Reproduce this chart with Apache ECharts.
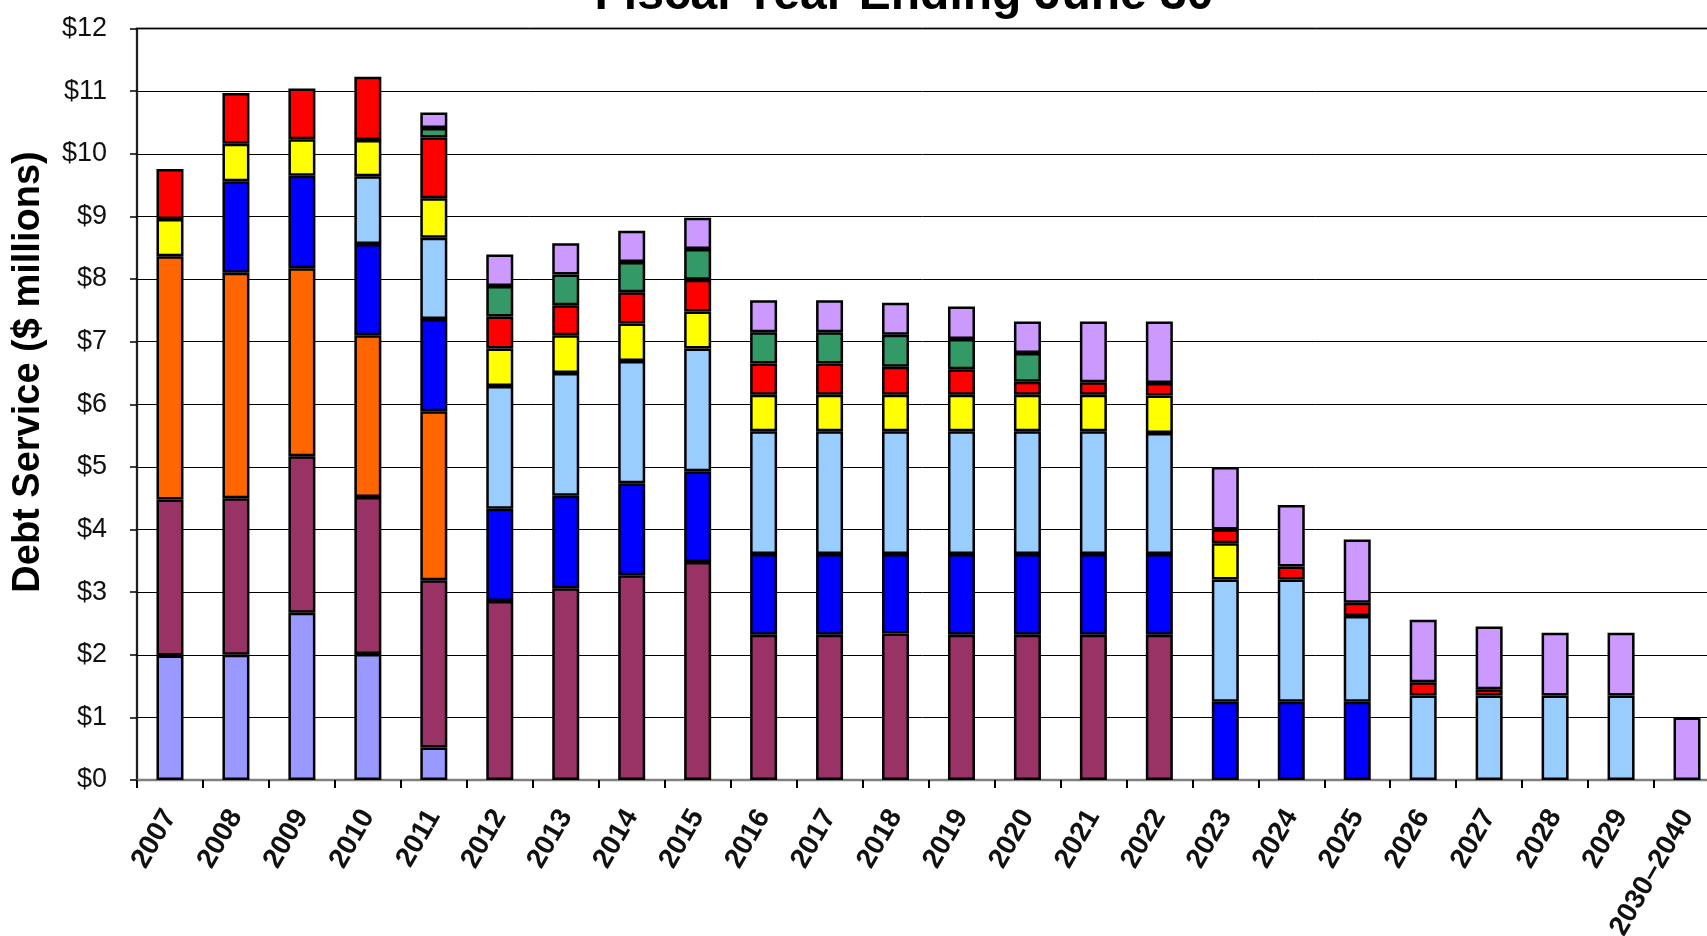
<!DOCTYPE html>
<html>
<head>
<meta charset="utf-8">
<style>
  html, body { margin: 0; padding: 0; background: #fff; }
  #chart { width: 1707px; height: 936px; }
</style>
<script src="https://cdn.jsdelivr.net/npm/echarts@6/dist/echarts.min.js"></script>
</head>
<body>
<div id="chart"></div>
<script>
const titleText = 'Fiscal Year Ending June 30';
const yAxisName = 'Debt Service ($ millions)';
const categories = ['2007','2008','2009','2010','2011','2012','2013','2014','2015','2016','2017','2018','2019','2020','2021','2022','2023','2024','2025','2026','2027','2028','2029','2030–2040'];
const yTickLabels = ['$0','$1','$2','$3','$4','$5','$6','$7','$8','$9','$10','$11','$12'];

const periwinkle = [1.99,2.00,2.67,2.01,0.52,0,0,0,0,0,0,0,0,0,0,0,0,0,0,0,0,0,0,0];
const maroon     = [2.49,2.50,2.50,2.51,2.67,2.86,3.06,3.27,3.48,2.32,2.32,2.34,2.32,2.32,2.32,2.32,0,0,0,0,0,0,0,0];
const orange     = [3.885,3.60,3.00,2.58,2.70,0,0,0,0,0,0,0,0,0,0,0,0,0,0,0,0,0,0,0];
const blue       = [0,1.46,1.48,1.46,1.47,1.47,1.48,1.47,1.45,1.29,1.29,1.27,1.29,1.29,1.29,1.29,1.25,1.25,1.25,0,0,0,0,0];
const lightBlue  = [0,0,0,1.08,1.30,1.96,1.96,1.95,1.96,1.96,1.96,1.96,1.96,1.96,1.96,1.93,1.95,1.95,1.37,1.35,1.35,1.35,1.35,0];
const yellow     = [0.595,0.60,0.58,0.58,0.63,0.60,0.60,0.60,0.59,0.58,0.58,0.58,0.58,0.58,0.58,0.60,0.58,0,0,0,0,0,0,0];
const red        = [0.795,0.81,0.81,1.01,0.97,0.51,0.48,0.50,0.51,0.50,0.50,0.45,0.41,0.21,0.20,0.20,0.22,0.21,0.21,0.21,0.10,0,0,0];
const green      = [0,0,0,0,0.15,0.49,0.49,0.48,0.49,0.50,0.50,0.51,0.48,0.46,0,0,0,0,0,0,0,0,0,0];
const lavender   = [0,0,0,0,0.25,0.50,0.50,0.50,0.50,0.51,0.51,0.51,0.52,0.50,0.97,0.98,1.00,0.98,1.01,1.00,1.00,1.00,1.00,1.00];

const seriesDefs = [
  { name: 'A', data: periwinkle, color: '#9999FF' },
  { name: 'B', data: maroon,     color: '#993366' },
  { name: 'C', data: orange,     color: '#FF6600' },
  { name: 'D', data: blue,       color: '#0000FF' },
  { name: 'E', data: lightBlue,  color: '#99CCFF' },
  { name: 'F', data: yellow,     color: '#FFFF00' },
  { name: 'G', data: red,        color: '#FF0000' },
  { name: 'H', data: green,      color: '#339966' },
  { name: 'I', data: lavender,   color: '#CC99FF' }
];

const chart = echarts.init(document.getElementById('chart'), null, { renderer: 'canvas' });
const FONT = "'Liberation Sans', Arial, sans-serif";

chart.setOption({
  backgroundColor: '#ffffff',
  animation: false,
  graphic: [
    {
      type: 'text',
      x: 904,
      y: -28,
      style: {
        text: titleText,
        font: 'bold 48px ' + FONT,
        fill: '#000',
        align: 'center',
        verticalAlign: 'top'
      }
    },
    {
      type: 'text',
      x: 29,
      y: 372,
      rotation: Math.PI / 2,
      style: {
        text: yAxisName,
        font: 'bold 38px ' + FONT,
        fill: '#000',
        align: 'center',
        verticalAlign: 'middle'
      }
    }
  ],
  grid: {
    left: 137,
    right: -13,
    top: 28.5,
    bottom: 156,
    show: true,
    borderColor: '#808080',
    borderWidth: 2.5,
    backgroundColor: 'transparent',
    containLabel: false,
    outerBoundsMode: 'none'
  },
  xAxis: {
    type: 'category',
    data: categories,
    axisLine: { show: true, lineStyle: { color: '#808080', width: 2 } },
    axisTick: { show: true, length: 8, lineStyle: { color: '#000', width: 2 } },
    axisLabel: {
      rotate: 60,
      interval: 0,
      margin: 32,
      fontFamily: FONT,
      fontSize: 28,
      fontWeight: 'bold',
      color: '#111'
    },
    splitLine: { show: false }
  },
  yAxis: {
    type: 'value',
    min: 0,
    max: 12,
    interval: 1,
    axisLine: { show: true, lineStyle: { color: '#000', width: 1.5 } },
    axisTick: { show: true, length: 7, lineStyle: { color: '#000', width: 1.5 } },
    axisLabel: {
      margin: 30,
      fontFamily: FONT,
      fontSize: 27,
      color: '#111',
      formatter: function (v) { return yTickLabels[Math.round(v)]; }
    },
    splitLine: { show: true, lineStyle: { color: '#000', width: 1 } }
  },
  series: seriesDefs.map(function (s) {
    return {
      name: s.name,
      type: 'bar',
      stack: 'total',
      barWidth: 27,
      data: s.data.map(function (v) { return v === 0 ? '-' : v; }),
      itemStyle: { color: s.color, borderColor: '#000', borderWidth: 2.5 }
    };
  })
});
</script>
</body>
</html>
